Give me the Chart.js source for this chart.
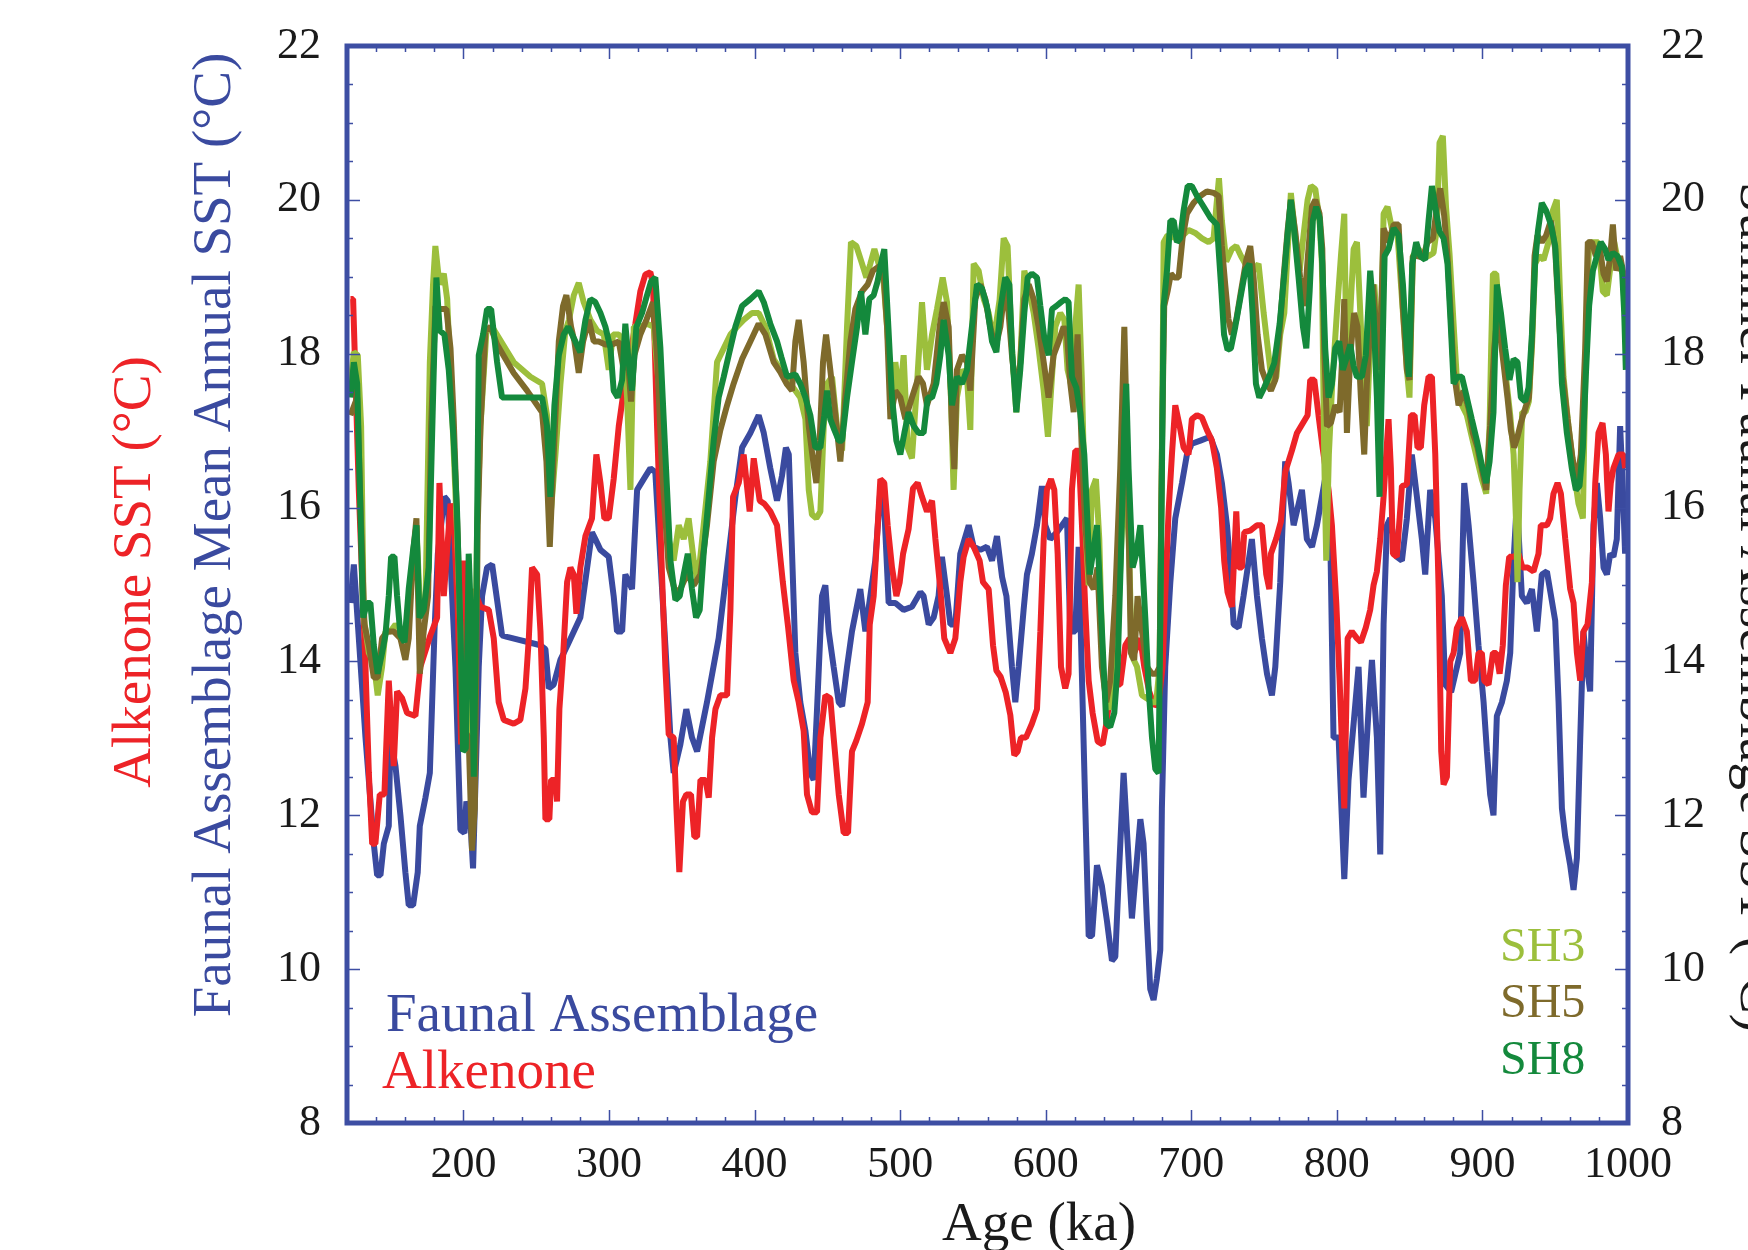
<!DOCTYPE html>
<html>
<head>
<meta charset="utf-8">
<title>Faunal assemblage and alkenone SST</title>
<script src="https://cdn.jsdelivr.net/npm/chart.js@4.4.1/dist/chart.umd.min.js"></script>
<style>
  html, body { margin: 0; padding: 0; background: #fff; overflow: hidden; }
  #wrap { width: 1748px; height: 1250px; }
</style>
</head>
<body>
<div id="wrap"><canvas id="sstChart" width="1748" height="1250"></canvas></div>
<script>
// tick labels
const ageTicks = [200, 300, 400, 500, 600, 700, 800, 900, 1000];
const sstTicks = [8, 10, 12, 14, 16, 18, 20, 22];

// Faunal assemblage mean annual SST
const faunalAge = [
  122.4,124.7,126.5,132.7,138.4,140.7,143.0,145.3,148.7,149.8,
  153.3,156.7,160.1,162.4,165.4,168.6,170.0,173.9,176.9,178.5,
  180.1,182.4,186.9,189.2,194.5,197.9,200.7,202.0,204.8,206.6,
  210.5,212.8,216.2,219.7,226.5,230.0,252.9,256.3,258.6,262.0,
  266.6,271.2,280.3,288.3,290.6,294.1,299.8,303.2,305.5,309.0,
  311.2,315.8,319.3,323.8,328.4,331.8,335.3,338.7,342.2,344.4,
  349.0,353.1,357.0,360.5,367.3,375.3,382.2,386.8,391.4,397.1,
  402.8,406.3,410.8,415.4,418.8,421.5,423.5,428.0,431.4,434.9,
  438.3,440.6,442.9,446.3,448.6,450.9,454.3,457.8,460.1,463.5,
  466.9,472.6,476.1,479.5,482.9,486.4,488.7,492.1,496.7,502.4,
  508.1,513.9,516.1,519.6,523.0,526.4,528.7,532.2,534.5,537.9,
  541.3,547.1,550.5,555.1,559.6,563.1,566.5,570.0,573.0,576.8,
  579.1,581.4,584.8,587.1,590.5,594.0,597.4,599.7,603.1,607.7,
  611.2,614.6,616.9,620.3,622.6,627.2,629.5,631.8,635.2,638.6,
  642.1,645.5,647.8,650.1,653.5,656.3,659.2,661.5,665.0,667.2,
  669.5,671.8,674.1,676.4,678.7,679.8,682.1,685.6,689.0,693.6,
  697.0,700.4,706.2,713.0,717.6,721.0,724.5,726.5,729.1,732.5,
  735.9,741.6,745.1,748.5,752.0,755.4,757.7,761.1,764.5,766.8,
  770.3,776.0,779.4,782.9,786.3,793.2,795.5,797.7,801.2,805.1,
  808.0,811.5,814.9,818.3,821.8,824.1,827.5,829.8,832.1,834.4,
  836.7,841.2,844.7,848.1,851.5,855.0,858.4,860.7,864.1,867.6,
  872.1,874.4,878.5,884.7,887.5,890.5,893.9,897.3,900.8,903.1,
  905.3,907.6,909.9,913.4,916.8,919.1,921.4,923.7,927.1,930.5,
  934.0,937.4,940.8,944.3,950.0,952.3,954.6,956.9,960.3,962.6,
  964.9,967.2,969.4,971.7,974.0,976.3,978.6,980.9,983.2,985.5,
  987.8,990.0,992.3,994.6,996.5,998.0
];
const faunalSST = [
  14.76,15.26,14.76,13.01,11.63,11.22,11.22,11.63,11.86,13.01,
  12.64,12.0,11.26,10.83,10.83,11.26,11.86,12.23,12.55,13.47,
  14.39,15.4,16.14,16.09,13.93,11.81,11.77,12.18,11.91,11.31,
  13.93,14.85,15.22,15.26,14.34,14.32,14.21,14.16,13.65,13.7,
  14.02,14.2,14.57,15.68,15.59,15.45,15.36,14.85,14.39,14.39,
  15.13,14.94,16.23,16.37,16.51,16.46,15.31,14.21,13.01,12.55,
  12.92,13.38,13.01,12.83,13.47,14.3,15.4,16.14,16.78,16.97,
  17.2,16.97,16.51,16.09,16.41,16.78,16.69,14.11,13.47,13.1,
  12.55,12.46,13.38,14.85,14.99,14.39,13.93,13.47,13.42,13.93,
  14.39,14.94,14.39,14.85,15.31,16.23,16.14,14.76,14.76,14.67,
  14.71,14.9,14.85,14.48,14.57,14.85,15.36,14.85,14.48,14.48,
  15.4,15.77,15.49,15.45,15.49,15.31,15.63,15.1,14.85,13.93,
  13.47,13.93,14.67,15.13,15.4,15.77,16.28,15.77,15.59,15.68,
  15.77,15.86,14.39,14.39,15.49,12.09,10.43,10.43,11.35,11.08,
  10.62,10.11,10.16,11.17,12.55,11.63,10.66,11.17,11.95,11.63,
  10.62,9.74,9.6,9.88,10.25,12.09,13.93,15.03,15.86,16.32,
  16.69,16.83,16.87,16.92,16.69,16.32,15.77,15.3,14.48,14.44,
  14.85,15.59,14.85,14.3,13.84,13.56,13.93,15.03,16.6,16.32,
  15.77,16.23,15.59,15.49,15.77,16.51,15.59,13.01,13.01,11.17,
  12.46,13.19,13.93,12.23,13.38,14.02,13.01,11.49,14.48,15.77,
  15.86,15.36,15.31,15.86,16.69,16.14,15.59,15.13,16.23,15.86,
  14.85,13.7,13.6,14.11,16.32,15.77,15.03,14.21,13.47,12.83,
  12.27,12.0,13.29,13.47,13.75,14.11,15.31,16.09,14.85,14.76,
  14.94,14.39,15.13,15.17,14.53,13.47,12.09,11.72,11.35,11.03,
  11.45,13.01,14.39,13.93,13.61,15.77,16.32,15.86,15.22,15.13,
  15.4,15.36,15.59,17.06,16.23,15.4
];

// Alkenone SST
const alkAge = [
  122.4,124.2,128.1,132.7,135.0,137.3,139.5,142.5,145.7,148.7,
  152.1,154.4,157.9,161.3,167.0,170.4,177.3,181.9,183.5,186.5,
  191.1,193.3,196.1,198.4,199.7,202.0,204.8,207.1,211.7,217.4,
  220.8,224.2,227.7,234.5,239.1,242.6,244.9,247.1,250.6,252.9,
  255.2,256.3,259.0,260.2,263.2,264.3,265.9,268.6,271.2,273.5,
  275.8,277.6,280.3,283.8,288.3,291.3,294.1,296.8,299.8,303.2,
  306.7,310.1,314.7,318.1,321.5,325.0,328.4,330.2,333.0,336.4,
  338.7,341.0,344.4,346.3,348.3,350.8,353.1,356.3,358.6,360.5,
  362.8,366.2,368.5,370.8,373.1,376.5,381.1,383.4,385.2,389.1,
  392.5,396.6,399.4,403.5,406.7,410.8,415.4,419.4,423.0,426.9,
  430.3,433.7,436.0,439.4,442.9,445.2,448.6,452.0,454.3,457.8,
  461.2,464.2,466.9,469.9,473.8,477.7,479.1,481.8,484.6,486.4,
  489.1,491.4,494.4,497.4,499.7,502.0,505.8,508.8,512.0,515.0,
  518.4,521.9,524.2,527.6,530.3,534.5,537.9,541.3,543.6,547.1,
  550.5,554.6,556.9,560.8,563.8,566.1,569.0,572.5,575.7,578.4,
  580.7,583.0,586.4,590.5,594.0,596.3,598.6,600.8,603.6,605.9,
  608.2,610.5,613.4,615.7,618.0,620.3,622.6,624.9,627.2,629.5,
  632.2,635.7,639.1,641.6,645.0,647.8,651.2,654.7,657.6,660.8,
  665.0,667.7,671.1,674.6,677.5,680.3,682.1,684.4,686.7,689.0,
  692.0,694.7,698.1,700.4,703.9,707.3,710.7,714.2,717.6,720.5,
  722.6,724.9,727.9,730.9,732.5,734.8,736.4,740.5,745.1,748.5,
  751.5,753.6,754.7,758.4,761.6,764.5,769.1,772.6,776.7,779.9,
  781.7,784.5,787.4,790.2,794.3,796.6,799.6,801.9,805.1,807.4,
  810.3,813.8,816.5,819.9,822.9,825.2,827.5,829.8,832.1,833.9,
  835.5,837.1,838.5,841.2,844.7,848.1,850.9,853.4,855.4,857.7,
  860.0,863.0,865.3,867.6,869.9,871.7,873.3,875.6,877.9,880.2,
  882.4,885.9,889.3,892.1,895.0,897.3,899.6,901.2,904.2,907.2,
  909.5,911.8,914.0,916.1,918.4,921.4,924.8,927.5,931.0,935.1,
  938.5,940.1,944.3,946.5,948.8,951.6,953.9,956.9,960.3,962.6,
  964.9,967.2,969.4,972.2,975.2,977.5,979.7,982.5,984.8,986.6,
  988.2,990.0,993.5,996.9,998.0
];
const alkSST = [
  18.71,18.71,16.23,13.93,12.55,11.63,11.63,12.27,12.27,13.75,
  12.64,13.61,13.52,13.33,13.29,13.93,14.34,14.57,16.32,14.85,
  16.05,15.86,14.67,12.92,15.31,13.01,13.38,14.94,14.71,14.67,
  14.3,13.47,13.24,13.19,13.24,13.65,14.3,15.22,15.13,14.39,
  13.01,11.95,11.95,12.46,12.46,12.18,13.38,14.11,15.03,15.22,
  15.13,14.62,15.22,15.63,15.86,16.69,16.32,15.86,15.86,16.37,
  17.06,17.52,17.98,18.39,18.81,19.03,19.06,18.9,17.06,15.13,
  13.93,13.05,13.01,12.09,11.26,12.18,12.27,12.27,11.72,11.72,
  12.46,12.46,12.23,13.01,13.38,13.56,13.56,14.67,16.14,16.32,
  16.69,15.95,16.64,16.09,16.05,15.95,15.77,15.03,14.45,13.75,
  13.47,13.1,12.27,12.04,12.04,13.01,13.56,13.52,13.01,12.27,
  11.77,11.77,12.83,12.97,13.19,13.47,14.48,14.85,15.77,16.37,
  16.32,15.77,15.22,14.85,15.03,15.4,15.72,16.25,16.32,16.14,
  15.95,16.09,15.59,14.94,14.3,14.11,14.3,15.03,15.36,15.59,
  15.49,15.31,15.03,14.94,14.21,13.88,13.8,13.6,13.3,12.78,
  12.83,13.01,13.01,13.19,13.38,14.39,15.59,16.23,16.37,16.23,
  15.4,13.93,13.65,13.84,16.23,16.74,16.74,15.77,14.67,13.75,
  13.33,12.96,12.92,13.19,13.65,13.7,13.7,14.21,14.3,14.11,
  14.3,13.93,13.61,13.42,13.47,13.93,14.85,15.95,16.69,17.33,
  17.06,16.78,16.69,17.15,17.2,17.17,17.01,16.87,16.51,16.0,
  15.31,14.9,14.71,15.95,15.22,15.22,15.68,15.7,15.77,15.77,
  15.13,14.94,15.4,15.6,15.82,16.46,16.74,16.97,17.1,17.2,
  17.66,17.66,17.2,16.78,16.23,15.77,14.76,13.75,12.09,14.3,
  14.39,14.3,14.25,14.44,14.67,14.99,15.17,15.59,16.14,16.69,
  17.15,16.51,15.4,15.36,16.28,16.3,17.2,17.2,16.78,16.78,
  17.33,17.7,17.7,16.69,14.94,12.83,12.4,12.5,14.0,14.11,
  14.43,14.57,14.39,13.75,13.75,14.11,14.11,13.75,13.7,14.11,
  14.11,13.84,14.21,14.99,15.36,15.36,15.4,15.22,15.22,15.17,
  15.4,15.77,15.77,15.86,16.18,16.32,16.18,15.59,14.94,14.76,
  14.11,13.75,14.39,14.48,15.03,16.32,16.97,17.1,16.69,15.95,
  16.32,16.51,16.69,16.69,16.51
];

// Summer faunal assemblage SST, SH8
const sh8Age = [
  122.4,124.7,127.0,131.1,133.8,136.1,138.4,141.1,144.1,146.4,
  148.7,150.3,152.6,154.4,156.7,159.5,162.4,165.4,167.7,169.8,
  172.7,176.2,179.6,181.4,183.7,186.9,189.9,193.3,195.6,197.9,
  199.7,201.6,203.6,205.5,207.1,208.9,210.5,213.5,216.2,219.0,
  223.1,226.5,254.0,257.4,259.7,262.5,265.5,268.9,272.0,276.9,
  280.3,283.8,287.2,290.6,294.1,297.5,301.0,303.2,306.0,309.0,
  311.2,313.5,315.8,318.8,322.7,326.1,328.9,331.8,335.3,338.7,
  342.2,345.6,348.6,351.3,354.1,357.0,359.8,362.3,365.0,368.5,
  371.9,375.3,378.8,382.2,386.8,391.4,397.1,402.8,406.3,410.8,
  415.4,418.5,422.3,428.0,431.4,434.9,438.3,441.7,445.2,447.9,
  449.8,452.0,454.8,457.8,460.1,463.5,466.9,470.4,473.1,476.1,
  478.8,481.8,484.5,486.8,489.1,491.4,494.4,497.4,500.1,502.9,
  505.8,509.3,512.7,516.1,518.9,521.9,524.8,527.6,529.9,533.3,
  535.6,539.0,542.5,545.9,549.3,552.8,556.2,559.6,563.1,566.1,
  569.0,572.2,575.0,577.0,579.8,582.5,585.3,587.6,590.5,594.0,
  596.3,599.0,602.0,604.3,607.3,610.5,613.4,615.7,618.0,621.0,
  623.7,626.5,628.8,630.2,632.4,635.2,637.5,639.8,641.6,644.3,
  647.1,649.4,651.7,654.0,655.3,656.9,659.7,662.2,665.0,668.4,
  670.7,673.0,675.3,677.5,679.2,681.0,683.3,685.6,687.9,690.1,
  692.4,694.7,697.5,700.4,703.9,708.5,713.0,717.6,720.4,722.5,
  724.9,727.2,730.2,733.6,737.1,740.0,742.1,744.4,746.7,750.1,
  753.8,757.0,760.7,763.9,766.1,768.4,770.7,773.7,776.7,779.0,
  781.3,783.5,785.8,788.1,790.0,792.0,794.3,796.6,798.9,801.6,
  804.1,806.4,809.2,811.5,813.8,817.2,819.9,822.9,825.2,827.5,
  829.3,830.9,832.8,835.5,839.0,842.4,845.4,847.7,849.5,851.8,
  854.5,857.3,860.7,863.0,865.3,867.6,870.5,873.3,876.0,878.3,
  880.2,882.9,885.9,889.3,892.7,896.2,899.6,902.6,904.9,907.6,
  909.9,912.7,915.6,918.6,921.4,924.1,926.4,929.4,931.7,934.0,
  936.2,938.1,940.8,943.8,947.0,950.0,952.3,954.6,958.0,961.4,
  964.2,966.7,969.0,971.0,973.3,975.9,978.6,981.3,984.3,986.6,
  989.6,992.8,995.8,997.4,998.5
];
const sh8SST = [
  17.43,17.89,17.61,14.57,14.76,14.76,14.21,13.84,14.11,14.34,
  14.85,15.36,15.36,14.85,14.34,14.25,14.94,15.45,15.77,14.57,
  14.67,15.22,17.79,18.99,18.3,18.25,17.79,16.87,15.95,14.39,
  12.83,12.87,15.4,14.39,12.5,14.85,17.98,18.25,18.58,18.58,
  17.89,17.43,17.43,17.06,16.14,17.33,17.98,18.25,18.35,18.16,
  18.02,18.44,18.71,18.67,18.53,18.35,18.07,17.52,17.43,17.66,
  18.39,17.89,17.52,18.35,18.53,18.76,18.94,18.99,18.07,16.69,
  15.31,14.8,14.85,15.13,15.4,14.94,14.57,14.67,15.4,16.14,
  16.87,17.43,17.7,17.98,18.35,18.62,18.71,18.81,18.67,18.39,
  18.16,17.95,17.7,17.73,17.61,17.43,17.2,16.78,16.78,17.2,
  17.52,17.15,17.01,16.87,16.87,17.43,17.89,18.35,18.81,18.25,
  18.71,18.76,18.94,19.17,19.36,18.53,17.43,16.87,16.69,16.97,
  17.24,17.06,16.97,16.97,17.43,17.43,17.61,17.98,18.44,17.98,
  17.33,17.7,17.61,17.79,18.35,18.9,18.85,18.62,18.16,18.02,
  18.6,18.99,18.9,18.0,17.24,17.79,18.53,18.99,19.04,18.99,
  18.62,18.21,17.98,18.58,18.62,18.67,18.71,18.67,17.7,17.56,
  17.24,16.69,15.77,15.13,15.4,15.77,14.85,13.93,13.19,13.15,
  13.33,13.93,15.4,17.06,17.61,16.51,15.22,15.4,15.77,14.57,
  13.65,13.01,12.6,12.55,15.31,18.62,19.08,19.73,19.73,19.45,
  19.5,19.86,20.18,20.18,20.05,19.91,19.77,19.68,18.9,18.25,
  18.05,18.07,18.35,18.71,19.08,19.17,18.53,17.61,17.43,17.56,
  17.72,17.88,18.39,19.04,19.54,20.0,19.59,18.99,18.35,18.07,
  18.81,19.73,19.91,19.77,19.17,18.07,17.43,17.61,18.07,18.16,
  17.79,17.93,18.12,17.84,17.7,17.7,17.98,19.08,18.53,17.43,
  16.14,17.61,19.27,19.36,19.63,19.54,18.9,18.16,17.7,19.17,
  19.45,19.27,19.22,19.73,20.18,19.91,19.59,19.5,19.17,18.35,
  17.61,17.7,17.7,17.43,17.15,16.87,16.55,16.32,16.6,17.24,
  18.9,18.53,18.07,17.66,17.93,17.89,17.43,17.38,17.56,18.25,
  19.17,19.59,19.96,19.86,19.68,19.4,18.62,17.61,16.97,16.51,
  16.23,16.28,16.78,17.7,18.62,19.08,19.27,19.45,19.36,19.22,
  19.31,19.27,19.13,18.53,17.79
];

// Summer faunal assemblage SST, SH5
const sh5Age = [
  122.4,127.0,129.7,132.0,135.0,138.4,141.1,144.1,147.6,152.1,
  156.7,160.1,162.4,165.4,167.7,170.0,172.7,175.7,177.8,180.7,
  184.2,188.3,191.1,193.3,196.1,198.4,200.7,203.6,205.9,207.8,
  209.8,211.7,215.1,218.5,223.1,234.5,243.7,254.0,257.0,259.3,
  262.0,265.5,268.4,270.7,273.9,276.2,279.2,282.2,286.1,289.5,
  292.9,297.5,302.1,306.7,310.1,312.4,315.1,317.4,321.5,325.7,
  330.2,333.0,336.4,341.0,345.6,349.0,353.6,358.2,362.8,367.3,
  371.9,376.5,381.1,385.6,391.4,397.1,402.8,407.4,413.1,418.0,
  422.3,425.7,428.0,430.3,433.7,437.2,440.6,442.4,444.7,447.0,
  449.1,452.0,455.5,458.9,462.3,465.8,469.2,473.8,477.7,481.3,
  485.2,488.2,491.0,493.3,496.7,500.1,503.6,508.1,512.7,515.7,
  518.4,523.0,527.1,529.9,533.3,535.6,537.2,539.0,542.5,545.9,
  548.2,551.6,555.1,558.5,561.9,565.4,568.8,572.2,574.5,576.8,
  579.8,582.5,585.3,588.3,591.7,595.1,598.6,602.0,605.4,608.9,
  612.3,614.6,616.9,619.2,621.9,624.9,627.2,630.2,632.9,635.6,
  638.6,641.6,644.3,647.8,651.2,654.0,656.3,658.5,660.8,663.1,
  666.1,669.5,673.0,675.9,678.2,679.8,681.4,683.7,686.0,688.3,
  691.3,694.0,697.0,701.6,706.2,710.7,715.3,718.8,721.0,723.3,
  725.5,727.9,730.9,734.1,737.8,740.5,742.8,745.5,748.5,752.0,
  754.7,757.7,760.7,763.4,766.1,768.4,771.4,774.8,777.6,780.1,
  782.9,785.2,788.1,790.0,791.3,793.2,795.9,798.9,801.9,803.5,
  805.1,806.9,809.2,811.9,814.2,816.5,818.8,820.6,822.9,824.8,
  827.0,829.3,832.1,835.5,839.0,842.4,845.4,848.1,849.9,852.2,
  855.4,859.1,862.3,866.0,868.7,871.0,873.7,876.0,877.9,880.2,
  883.6,887.0,890.5,893.4,896.6,899.6,902.6,905.3,908.1,910.4,
  912.7,915.0,917.2,919.5,921.8,924.1,926.4,929.4,931.9,934.0,
  935.8,937.8,940.8,943.8,947.0,950.0,952.3,955.2,958.5,961.9,
  964.9,967.6,970.6,972.4,975.2,977.9,980.4,983.2,985.5,987.8,
  989.6,991.9,994.6,996.9,998.3
];
const sh5SST = [
  17.2,17.43,15.77,14.48,14.21,13.79,13.79,14.3,14.39,14.39,
  14.3,14.02,14.3,15.4,15.86,13.84,14.39,14.85,17.06,18.62,
  18.58,18.58,18.07,17.15,15.59,14.11,13.1,13.01,11.54,12.09,
  15.77,17.06,18.3,18.35,18.12,17.75,17.52,17.24,16.6,15.49,
  16.69,18.16,18.62,18.76,18.35,18.16,17.75,18.16,18.44,18.16,
  18.16,18.12,18.12,18.16,17.79,18.07,17.38,17.98,18.25,18.44,
  18.67,17.98,16.51,15.22,14.9,14.94,15.13,14.99,15.13,15.77,
  16.6,17.01,17.33,17.61,17.93,18.16,18.39,18.25,17.89,17.75,
  17.6,17.52,18.16,18.44,17.89,17.06,16.55,16.32,16.87,17.89,
  18.25,17.79,17.2,16.6,17.43,18.16,18.58,18.81,18.9,19.08,
  19.13,19.17,18.35,17.15,17.52,17.43,17.15,17.43,17.7,17.61,
  17.33,17.61,18.35,18.67,18.35,17.06,16.5,17.79,17.98,17.89,
  17.52,18.71,18.9,18.71,18.35,18.07,18.35,18.9,18.53,17.98,
  17.43,17.89,18.71,18.9,18.71,18.35,17.89,17.43,17.98,18.16,
  18.35,18.25,17.61,17.24,18.25,16.69,15.77,15.03,14.94,15.22,
  13.93,13.47,13.75,14.85,16.51,18.35,16.51,14.11,14.02,14.85,
  14.39,13.93,13.84,13.84,13.93,16.69,18.62,18.81,19.04,18.99,
  18.99,19.5,19.82,19.96,20.05,20.11,20.09,20.05,19.4,18.9,
  18.45,18.25,18.44,18.81,19.22,19.4,18.99,18.25,17.79,17.61,
  17.52,17.66,18.3,18.99,19.59,20.0,19.59,18.99,18.62,19.27,
  19.91,20.0,19.82,19.36,18.07,17.06,17.1,17.33,17.24,17.89,
  18.71,16.97,17.98,18.53,18.35,17.43,16.69,17.61,18.35,18.9,
  18.35,17.79,19.63,19.45,19.68,19.68,18.58,17.79,17.66,19.27,
  19.27,19.25,19.45,19.5,19.91,20.15,19.8,19.27,18.62,17.79,
  17.33,17.52,17.29,16.97,16.78,16.5,16.23,17.06,18.07,18.53,
  18.16,17.79,17.43,17.01,16.78,16.92,17.1,17.29,17.43,18.16,
  19.27,19.54,19.45,19.54,19.73,19.36,18.53,17.7,17.15,16.64,
  16.32,16.69,18.07,19.45,19.45,19.27,19.4,19.04,18.94,19.27,
  19.68,19.08,19.27,19.04,18.35
];

// Summer faunal assemblage SST, SH3
const sh3Age = [
  122.4,124.7,127.4,129.7,131.5,135.0,138.4,141.1,144.1,146.4,
  149.8,153.3,157.9,161.3,164.7,167.7,170.4,173.9,176.9,179.1,
  180.7,183.5,186.5,188.8,192.2,195.6,198.4,200.2,202.5,204.8,
  207.1,209.4,211.7,215.8,219.7,234.5,246.0,254.0,257.4,259.7,
  263.2,266.6,270.0,272.5,275.8,279.2,282.6,287.2,291.8,296.4,
  299.8,302.8,306.7,310.1,312.4,314.7,317.0,321.5,326.1,330.7,
  334.1,337.6,341.0,344.4,347.9,351.3,354.7,358.2,360.9,365.0,
  369.6,374.2,378.8,383.4,388.0,392.5,398.2,402.8,407.4,413.1,
  417.7,424.6,431.4,434.9,437.2,439.4,442.4,445.2,447.5,449.8,
  453.2,456.6,460.1,463.5,466.2,469.9,473.8,476.8,479.5,482.3,
  485.2,488.2,491.0,494.4,496.7,499.7,502.4,505.2,508.1,511.6,
  515.0,518.4,521.9,525.3,529.2,532.2,534.9,536.7,539.0,542.5,
  545.9,548.2,550.5,553.9,557.4,560.8,564.2,568.3,571.1,573.8,
  576.8,579.8,582.5,585.3,588.3,591.7,595.1,598.6,601.5,604.3,
  606.6,610.0,612.8,615.0,617.3,620.3,622.6,624.9,627.2,629.5,
  631.8,634.5,636.8,639.1,641.6,644.3,646.6,649.4,652.4,654.7,
  657.0,659.2,662.7,666.1,669.5,673.0,675.9,678.2,679.8,681.0,
  683.7,686.7,690.1,694.3,698.1,702.7,707.3,711.9,715.3,717.2,
  719.0,721.0,724.0,727.9,730.9,734.1,737.1,740.0,742.8,746.2,
  749.7,753.1,755.4,758.4,761.1,763.9,765.7,768.4,771.4,774.4,
  777.1,779.9,782.2,785.2,788.1,789.7,791.3,792.7,794.5,796.8,
  800.0,802.8,805.1,806.9,809.2,811.5,813.8,816.1,818.3,820.6,
  822.9,825.7,828.0,829.8,832.1,834.8,837.8,841.2,845.4,848.1,
  849.9,852.2,856.1,859.6,863.0,866.4,868.7,870.5,872.8,875.0,
  877.4,880.6,882.9,885.9,889.3,892.7,896.2,899.6,902.6,904.9,
  906.0,907.2,909.5,912.2,915.6,919.1,921.4,923.0,924.1,925.5,
  927.3,929.6,931.9,934.2,936.2,939.0,942.0,945.4,948.4,951.1,
  953.4,955.7,959.1,962.6,966.0,969.0,971.0,973.3,976.3,979.7,
  982.7,985.5,988.2,990.5,993.5,996.5,998.0
];
const sh3SST = [
  17.61,18.02,17.98,17.06,14.57,14.11,13.98,13.56,13.93,14.39,
  14.39,14.48,14.39,14.48,15.22,15.77,14.57,14.76,17.89,18.9,
  19.4,18.9,19.04,18.71,17.24,15.68,14.11,12.92,13.47,13.56,
  12.55,15.77,17.06,18.3,18.35,17.89,17.7,17.61,17.2,15.86,
  16.69,17.6,18.3,18.44,18.76,18.92,18.67,18.44,18.3,18.25,
  17.79,18.25,18.25,18.16,17.43,16.23,18.35,18.35,18.39,18.35,
  17.61,16.51,15.59,15.31,15.77,15.59,15.86,15.31,15.03,15.77,
  16.6,17.89,18.07,18.25,18.35,18.44,18.53,18.53,18.35,17.93,
  17.8,17.61,17.43,17.15,16.23,15.91,15.86,15.95,17.06,17.61,
  17.7,17.06,16.74,18.35,19.45,19.4,19.17,18.99,19.17,19.36,
  19.17,19.04,18.35,17.43,17.89,17.43,17.98,16.78,16.64,17.61,
  18.67,17.79,18.25,18.58,18.99,18.67,17.43,16.23,17.43,17.79,
  17.7,17.01,19.17,19.08,18.71,18.53,18.16,18.7,19.5,19.4,
  18.07,17.24,17.89,19.08,18.85,18.53,18.07,17.52,16.92,17.7,
  18.35,18.53,18.44,17.79,17.61,18.35,18.9,17.61,15.77,14.99,
  16.23,16.37,15.59,13.93,13.47,13.38,13.65,14.39,15.77,16.32,
  15.59,14.07,13.93,13.56,13.52,13.47,13.47,13.93,16.69,19.45,
  19.54,19.52,19.5,19.54,19.61,19.57,19.5,19.45,19.5,19.91,
  20.28,19.73,19.2,19.36,19.4,19.27,19.17,19.27,19.08,19.17,
  18.53,17.98,17.61,17.7,18.25,18.53,19.17,20.09,19.54,19.08,
  19.54,20.0,20.18,20.14,19.73,19.17,16.69,15.31,16.69,17.61,
  18.53,19.27,19.82,17.61,18.53,19.36,19.45,18.53,17.61,17.06,
  18.16,18.9,18.25,17.61,19.82,19.91,19.63,19.68,18.53,17.79,
  17.43,19.27,19.36,19.27,19.27,19.31,19.63,20.74,20.83,19.9,
  19.3,18.25,17.52,17.33,17.2,16.92,16.64,16.37,16.18,17.06,
  18.07,19.04,19.04,18.35,17.79,17.2,16.69,15.86,15.03,16.23,
  17.24,17.24,17.38,18.16,19.17,19.27,19.22,19.45,19.86,20.0,
  18.71,17.7,17.06,16.5,16.05,15.86,18.07,19.45,19.45,19.45,
  18.81,18.76,19.17,19.45,19.17,19.04,18.44
];

const BLUE = '#3a4a9f';
const RED = '#ed2327';
const SH3_COL = '#9cbf3c';
const SH5_COL = '#7e6a2b';
const SH8_COL = '#14893c';
const FRAME_COL = '#3d4ea3';
const SERIF = "'Liberation Serif', 'Times New Roman', serif";

function toPoints(ages, vals) {
  if (ages.length !== vals.length) console.error('length mismatch', ages.length, vals.length);
  return ages.map((a, i) => ({ x: a, y: vals[i] }));
}

const lineBase = { borderWidth: 6, pointRadius: 0, tension: 0, fill: false, borderJoinStyle: 'bevel' };

// frame and inward major/minor ticks, placed through the chart scales
const frameTicks = {
  id: 'frameTicks',
  afterDatasetsDraw(chart) {
    const { ctx, chartArea: a, scales } = chart;
    const x = scales.x, y = scales.y;
    ctx.save();
    ctx.strokeStyle = FRAME_COL;
    ctx.lineWidth = 1.5;
    ctx.beginPath();
    for (let v = 120; v <= 1000; v += 20) {
      const px = Math.round(x.getPixelForValue(v)) + 0.5;
      const len = v % 100 === 0 ? 13 : 6;
      ctx.moveTo(px, a.bottom); ctx.lineTo(px, a.bottom - len);
      ctx.moveTo(px, a.top); ctx.lineTo(px, a.top + len);
    }
    for (let v = 8; v <= 22; v += 0.5) {
      const py = Math.round(y.getPixelForValue(v)) + 0.5;
      const len = v % 2 === 0 ? 13 : 6;
      ctx.moveTo(a.left, py); ctx.lineTo(a.left + len, py);
      ctx.moveTo(a.right, py); ctx.lineTo(a.right - len, py);
    }
    ctx.stroke();
    ctx.lineWidth = 5;
    ctx.strokeRect(a.left, a.top, a.right - a.left, a.bottom - a.top);
    ctx.restore();
  }
};

// axis titles and in-plot legend labels
const textLayer = {
  id: 'textLayer',
  afterDraw(chart) {
    const { ctx } = chart;
    ctx.save();
    ctx.textBaseline = 'alphabetic';
    ctx.font = `55px ${SERIF}`;

    ctx.textAlign = 'center';
    ctx.fillStyle = BLUE;
    ctx.save(); ctx.translate(230, 535); ctx.rotate(-Math.PI / 2);
    ctx.fillText('Faunal Assemblage Mean Annual SST (°C)', 0, 0); ctx.restore();

    ctx.fillStyle = RED;
    ctx.save(); ctx.translate(150, 572); ctx.rotate(-Math.PI / 2);
    ctx.fillText('Alkenone SST (°C)', 0, 0); ctx.restore();

    ctx.fillStyle = '#1a1a1a';
    ctx.save(); ctx.translate(1741, 607); ctx.rotate(Math.PI / 2);
    ctx.fillText('Summer Faunal Assemblage SST (°C)', 0, 0); ctx.restore();

    ctx.fillText('Age (ka)', 1039, 1240);

    ctx.textAlign = 'left';
    ctx.fillStyle = BLUE;
    ctx.fillText('Faunal Assemblage', 386, 1031);
    ctx.fillStyle = RED;
    ctx.fillText('Alkenone', 382, 1088);

    ctx.font = `48px ${SERIF}`;
    ctx.fillStyle = SH3_COL; ctx.fillText('SH3', 1500, 961);
    ctx.fillStyle = SH5_COL; ctx.fillText('SH5', 1500, 1017);
    ctx.fillStyle = SH8_COL; ctx.fillText('SH8', 1500, 1074);
    ctx.restore();
  }
};

const whiteBg = {
  id: 'whiteBg',
  beforeDraw(chart) {
    const { ctx, width, height } = chart;
    ctx.save(); ctx.fillStyle = '#fff'; ctx.fillRect(0, 0, width, height); ctx.restore();
  }
};

const tickFont = { family: SERIF, size: 44 };
const plainLabel = v => String(v);

// fixed scale boxes so the plot area sits where the reference has it
function fixBox(size, horizontal) {
  return s => {
    if (horizontal) s.height = size; else s.width = size;
    s.paddingTop = 0; s.paddingBottom = 0; s.paddingLeft = 0; s.paddingRight = 0;
  };
}

new Chart(document.getElementById('sstChart'), {
  type: 'line',
  data: {
    datasets: [
      { label: 'SH8', data: toPoints(sh8Age, sh8SST), borderColor: SH8_COL, yAxisID: 'y2', order: 0, ...lineBase },
      { label: 'SH5', data: toPoints(sh5Age, sh5SST), borderColor: SH5_COL, yAxisID: 'y2', order: 1, ...lineBase },
      { label: 'SH3', data: toPoints(sh3Age, sh3SST), borderColor: SH3_COL, yAxisID: 'y2', order: 2, ...lineBase },
      { label: 'Alkenone', data: toPoints(alkAge, alkSST), borderColor: RED, yAxisID: 'y', order: 3, ...lineBase },
      { label: 'Faunal Assemblage', data: toPoints(faunalAge, faunalSST), borderColor: BLUE, yAxisID: 'y', order: 4, ...lineBase }
    ]
  },
  options: {
    responsive: false,
    devicePixelRatio: 1,
    animation: false,
    events: [],
    layout: { padding: { top: 46, left: 0, right: 0, bottom: 0 } },
    plugins: { legend: { display: false }, tooltip: { enabled: false } },
    scales: {
      x: {
        type: 'linear', position: 'bottom', min: 120, max: 1000,
        afterBuildTicks: s => { s.ticks = ageTicks.map(v => ({ value: v })); },
        afterFit: fixBox(127, true),
        grid: { display: false, drawTicks: false },
        border: { display: false },
        ticks: { color: '#1a1a1a', font: tickFont, padding: 16, maxRotation: 0, autoSkip: false, callback: plainLabel }
      },
      y: {
        type: 'linear', position: 'left', min: 8, max: 22,
        afterBuildTicks: s => { s.ticks = sstTicks.map(v => ({ value: v })); },
        afterFit: fixBox(347, false),
        grid: { display: false, drawTicks: false },
        border: { display: false },
        ticks: { color: '#1a1a1a', font: tickFont, padding: 26, callback: plainLabel }
      },
      y2: {
        type: 'linear', position: 'right', min: 8, max: 22,
        afterBuildTicks: s => { s.ticks = sstTicks.map(v => ({ value: v })); },
        afterFit: fixBox(120, false),
        grid: { display: false, drawTicks: false },
        border: { display: false },
        ticks: { color: '#1a1a1a', font: tickFont, padding: 33, callback: plainLabel }
      }
    }
  },
  plugins: [whiteBg, frameTicks, textLayer]
});
</script>
</body>
</html>
